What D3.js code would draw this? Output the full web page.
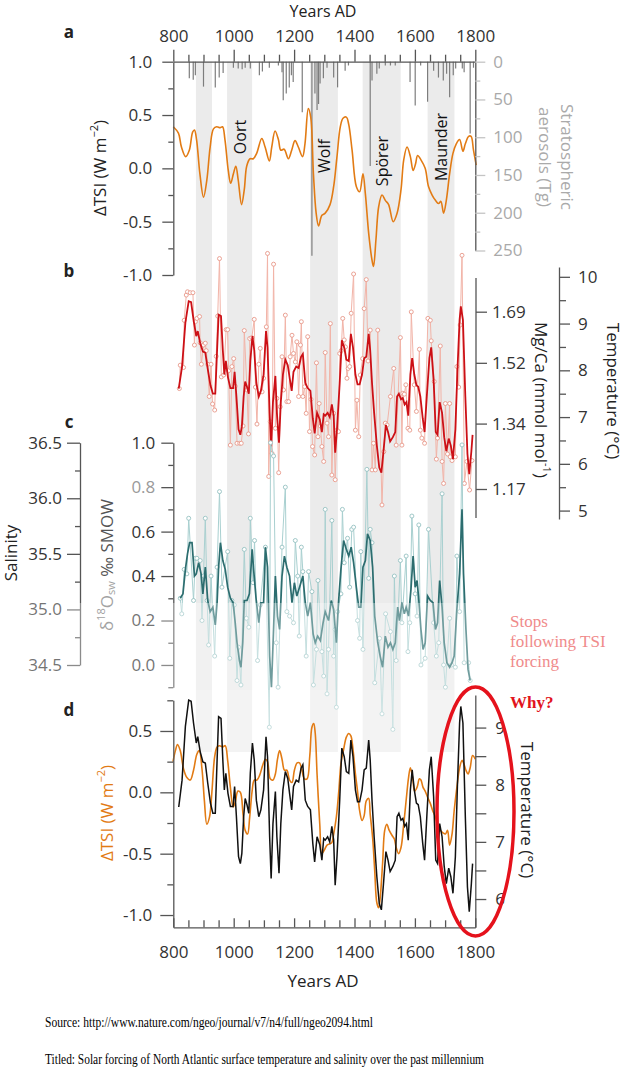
<!DOCTYPE html>
<html><head><meta charset="utf-8">
<script src="https://cdn.jsdelivr.net/npm/d3@7"></script>
<style>body{margin:0;background:#fff}svg{display:block}</style>
</head><body><svg id="c" width="623" height="1080"></svg>
<script>
// ---------------- DATA ----------------
const yearTicks = [800,1000,1200,1400,1600,1800];
const bandStart = [875, 978, 1253, 1427, 1642];
const bandEnd   = [928, 1061, 1345, 1553, 1731];
const bandNames = ["", "Oort", "Wolf", "Spörer", "Maunder"];

const volcYears = [853,866,873,900,939,952,965,999,1015,1028,1038,1055,1085,1095,1118,1148,1160,1164,1174,1184,1191,1197,1227,1259,1269,1276,1281,1286,1297,1309,1331,1344,1369,1380,1452,1458,1474,1482,1502,1519,1535,1584,1601,1619,1642,1662,1678,1694,1705,1715,1727,1735,1757,1763,1783,1794];
const volcTg    = [22,24,18,33,34,21,15,8,9,10,8,9,18,13,8,5,14,51,42,34,18,27,67,257,42,64,56,29,22,8,21,34,12,5,138,25,16,9,5,5,5,27,58,5,53,12,21,25,16,47,18,9,9,14,95,8];

const tsiAYears = [800,817,827,841,853,864,870,877,888,900,911,922,933,944,955,963,971,982,990,999,1007,1015,1026,1035,1043,1054,1065,1076,1093,1104,1118,1126,1137,1148,1156,1167,1181,1192,1203,1214,1228,1236,1247,1255,1264,1273,1281,1292,1303,1319,1331,1342,1353,1362,1373,1381,1392,1406,1417,1428,1436,1447,1458,1463,1471,1480,1491,1502,1513,1528,1541,1554,1563,1574,1585,1594,1602,1609,1620,1634,1645,1657,1668,1678,1686,1695,1704,1715,1726,1737,1748,1759,1767,1778,1786,1794,1803];
const tsiAValues = [0.39,0.33,0.20,0.11,0.17,0.34,0.36,0.27,-0.05,-0.27,-0.11,0.20,0.37,0.39,0.38,0.39,0.27,-0.02,-0.14,-0.05,0.02,-0.11,-0.34,-0.20,0.02,0.09,0.09,0.14,0.28,0.20,0.07,0.20,0.35,0.27,0.17,0.18,0.09,0.17,0.26,0.20,0.11,0.23,0.56,0.48,-0.05,-0.42,-0.54,-0.44,-0.42,-0.34,-0.17,0.11,0.39,0.47,0.48,0.41,0.17,-0.17,-0.22,-0.05,-0.24,-0.61,-0.86,-0.92,-0.67,-0.36,-0.25,-0.30,-0.34,-0.50,-0.42,-0.20,0.08,0.20,0.11,-0.02,0.04,0.12,0.08,0.00,-0.17,-0.25,-0.30,-0.33,-0.31,-0.42,-0.30,-0.05,0.14,0.23,0.27,0.16,0.23,0.30,0.30,0.17,0.03];

const mgPtYears = [820,823,834,836,843,847,856,865,870,873,878,887,889,893,900,906,909,914,919,925,930,937,942,947,953,959,967,975,980,983,989,994,1000,1005,1011,1020,1025,1031,1035,1044,1049,1053,1060,1068,1072,1077,1083,1088,1094,1099,1108,1112,1116,1121,1127,1132,1138,1143,1149,1154,1160,1165,1171,1176,1182,1187,1193,1198,1204,1209,1215,1221,1224,1229,1235,1240,1245,1251,1256,1261,1268,1274,1279,1283,1287,1292,1298,1303,1309,1314,1320,1325,1331,1336,1342,1347,1351,1356,1361,1366,1370,1375,1379,1384,1389,1397,1403,1408,1414,1419,1427,1432,1439,1445,1452,1458,1463,1469,1477,1491,1497,1502,1508,1519,1530,1538,1552,1557,1560,1565,1570,1577,1583,1588,1598,1605,1615,1618,1623,1632,1643,1651,1654,1664,1671,1675,1684,1690,1695,1701,1708,1715,1717,1723,1734,1739,1745,1750,1756,1764,1772,1781,1789];
const mgPtTemps = [7.61,8.11,8.06,9.07,9.61,9.68,9.66,9.66,8.54,9.04,9.11,9.15,8.59,8.13,8.54,8.58,8.42,8.13,7.44,8.13,7.28,7.15,8.30,9.16,10.39,7.86,7.90,8.87,8.87,7.99,6.40,8.08,8.25,7.66,6.44,6.44,6.44,6.81,8.85,7.58,6.64,8.68,8.70,9.09,7.64,6.85,8.13,8.47,7.54,7.83,8.93,10.50,5.73,6.90,6.22,10.27,6.76,7.40,5.81,7.22,8.29,7.58,9.18,7.33,7.33,8.29,8.75,8.36,8.18,8.61,7.44,8.54,9.04,7.44,7.65,7.08,8.72,6.69,7.38,6.37,6.19,8.16,6.58,7.29,6.81,6.37,6.05,8.38,6.87,6.58,9.00,5.76,7.08,5.66,6.72,6.69,8.36,8.42,9.11,8.65,8.50,7.83,8.04,8.08,9.22,10.06,6.72,7.36,6.58,7.90,8.25,9.32,9.94,8.20,8.86,5.87,6.44,5.87,8.86,5.12,6.26,6.87,6.83,7.44,8.04,6.40,8.70,6.40,7.51,7.49,7.69,6.76,6.72,9.25,7.69,7.12,8.45,6.72,6.55,6.44,9.11,9.07,8.63,7.76,6.10,6.55,8.52,6.05,5.58,7.29,6.21,7.29,6.15,6.07,6.15,8.08,7.64,8.97,10.46,5.58,6.05,5.44,6.07];

const tempYears = [818,829,840,851,859,867,876,881,889,898,906,914,923,931,939,945,950,958,964,969,974,981,989,998,1003,1009,1016,1022,1027,1033,1038,1044,1050,1055,1062,1068,1075,1083,1090,1099,1107,1112,1119,1124,1130,1138,1143,1150,1156,1163,1171,1179,1185,1192,1198,1207,1215,1223,1229,1237,1245,1254,1262,1268,1276,1285,1292,1298,1303,1311,1318,1325,1331,1336,1342,1351,1358,1366,1373,1381,1388,1395,1403,1410,1417,1425,1432,1439,1447,1452,1458,1465,1474,1482,1489,1496,1504,1511,1518,1527,1535,1541,1547,1554,1560,1566,1572,1578,1585,1591,1598,1605,1611,1618,1626,1632,1640,1648,1654,1662,1669,1675,1682,1690,1697,1704,1712,1719,1726,1734,1741,1748,1752,1759,1767,1774,1780,1787,1791];
const tempValues = [7.61,8.08,9.02,9.48,9.46,9.08,8.73,8.84,8.58,8.40,8.38,8.03,7.68,7.50,7.50,8.43,9.19,9.16,8.43,7.91,8.20,7.85,7.62,7.62,7.97,7.44,6.74,6.62,6.80,7.44,7.76,7.65,7.50,8.20,8.73,8.43,7.73,7.44,7.56,7.91,8.84,8.49,7.09,6.36,7.32,7.88,7.09,6.45,7.32,7.91,8.23,8.11,7.85,7.56,7.97,8.08,8.05,8.29,8.35,7.73,7.62,7.56,6.97,6.65,7.09,6.95,6.68,7.06,7.03,7.09,7.00,7.27,7.03,6.24,6.74,7.73,8.64,8.49,8.23,8.20,8.78,8.49,7.91,7.70,7.70,7.91,8.26,8.29,8.78,8.43,7.73,7.09,6.39,5.92,5.81,6.27,6.83,6.68,6.48,6.57,6.68,7.44,7.50,7.38,7.41,7.27,7.32,7.03,7.91,8.26,7.91,7.68,7.65,7.44,6.97,6.68,7.50,8.26,8.49,7.79,6.68,6.62,7.32,7.09,6.57,6.27,6.54,6.39,6.10,6.74,8.02,9.08,9.37,9.08,7.44,6.21,5.78,6.27,6.62];

const d18PtYears = [823,828,836,845,851,867,873,878,889,895,900,906,912,917,925,937,945,953,961,980,987,994,1002,1011,1016,1024,1035,1042,1050,1055,1064,1069,1079,1088,1105,1118,1122,1132,1141,1147,1160,1171,1176,1185,1198,1204,1212,1217,1224,1229,1240,1248,1259,1264,1274,1279,1292,1298,1303,1309,1314,1325,1331,1336,1340,1344,1355,1360,1366,1377,1384,1391,1397,1410,1417,1421,1428,1441,1447,1452,1458,1467,1483,1491,1503,1519,1527,1532,1538,1552,1557,1571,1577,1583,1590,1601,1607,1613,1620,1634,1645,1662,1671,1679,1690,1695,1701,1715,1721,1734,1739,1748,1756,1763,1778,1783];
const d18PtValues = [0.30,0.23,0.43,0.41,0.66,0.29,0.48,0.48,0.47,0.20,0.40,0.66,0.29,0.09,0.40,0.04,0.44,0.78,0.35,0.51,0.03,0.29,0.27,-0.07,0.08,-0.09,0.52,0.21,0.17,0.66,0.37,0.56,0.02,0.27,0.53,-0.28,1.00,0.94,0.10,-0.10,0.53,0.80,0.24,0.22,0.19,0.56,0.40,0.13,0.53,0.42,0.04,0.42,0.33,-0.09,0.07,0.38,0.06,-0.05,0.70,-0.13,0.07,0.65,0.04,0.16,-0.19,0.24,0.32,0.70,0.46,0.57,0.35,0.61,0.62,0.20,0.12,0.51,0.07,0.88,0.39,0.61,0.55,-0.08,0.12,-0.22,0.23,0.15,-0.29,0.40,0.02,0.47,0.19,0.49,0.06,0.19,0.67,0.32,0.22,0.63,0.00,0.03,0.61,0.19,0.04,0.10,0.77,0.00,-0.10,0.21,0.00,-0.01,0.49,0.24,0.99,0.01,0.01,-0.07];

const d18Years = [823,832,840,847,854,862,870,876,884,892,898,906,914,922,931,939,945,950,956,964,972,980,989,998,1005,1011,1019,1024,1030,1035,1044,1052,1061,1066,1074,1083,1090,1099,1105,1112,1119,1125,1132,1138,1145,1152,1160,1168,1176,1185,1193,1201,1209,1218,1229,1237,1245,1254,1263,1270,1278,1287,1296,1303,1314,1323,1331,1340,1347,1355,1364,1373,1381,1389,1397,1406,1414,1421,1428,1436,1443,1452,1460,1467,1477,1485,1493,1502,1511,1519,1527,1535,1543,1549,1557,1565,1571,1579,1587,1594,1601,1607,1612,1620,1627,1634,1642,1651,1660,1668,1675,1682,1690,1697,1706,1715,1723,1730,1739,1748,1756,1761,1769,1776,1783];
const d18Values = [0.30,0.32,0.43,0.50,0.55,0.55,0.40,0.41,0.46,0.41,0.32,0.44,0.29,0.24,0.26,0.18,0.28,0.44,0.55,0.47,0.43,0.35,0.30,0.28,0.19,0.10,0.02,-0.01,0.10,0.29,0.29,0.32,0.52,0.43,0.30,0.19,0.28,0.28,0.53,0.44,0.04,-0.10,0.16,0.40,0.22,0.16,0.40,0.49,0.44,0.40,0.28,0.37,0.31,0.35,0.40,0.28,0.22,0.28,0.14,0.10,0.13,0.11,0.19,0.24,0.20,0.29,0.25,0.10,0.28,0.43,0.56,0.52,0.49,0.53,0.46,0.35,0.26,0.26,0.44,0.47,0.59,0.56,0.44,0.22,0.10,0.04,-0.01,0.13,0.08,0.10,0.07,0.10,0.26,0.20,0.28,0.23,0.26,0.22,0.34,0.49,0.35,0.38,0.31,0.16,0.07,0.10,0.31,0.29,0.28,0.16,0.19,0.38,0.26,0.10,0.01,-0.01,0.01,0.04,0.25,0.41,0.70,0.41,0.16,-0.02,-0.07];

const tsiDYears = [799,807,814,823,834,845,856,867,878,886,895,903,911,920,928,937,945,953,964,972,980,989,998,1005,1014,1022,1031,1038,1046,1053,1061,1068,1077,1086,1096,1105,1112,1121,1130,1138,1145,1152,1160,1168,1176,1185,1193,1201,1210,1218,1226,1234,1243,1252,1259,1265,1270,1276,1285,1292,1300,1309,1318,1325,1331,1340,1348,1355,1364,1373,1381,1388,1395,1403,1410,1417,1425,1432,1439,1447,1452,1460,1467,1474,1480,1485,1493,1500,1507,1515,1524,1532,1538,1546,1554,1563,1572,1579,1585,1593,1599,1607,1615,1620,1627,1634,1642,1651,1659,1668,1675,1684,1693,1701,1708,1715,1723,1730,1739,1748,1756,1761,1769,1776,1783,1791,1800];
const tsiDValues = [0.25,0.34,0.39,0.34,0.19,0.12,0.10,0.18,0.31,0.34,0.19,-0.07,-0.26,-0.20,0.01,0.29,0.37,0.38,0.37,0.38,0.26,0.04,-0.12,-0.08,0.01,0.00,-0.18,-0.31,-0.34,-0.20,0.01,0.10,0.10,0.14,0.22,0.27,0.25,0.11,0.10,0.15,0.27,0.34,0.27,0.18,0.18,0.10,0.08,0.18,0.24,0.24,0.18,0.11,0.11,0.30,0.53,0.56,0.48,0.15,-0.26,-0.50,-0.47,-0.43,-0.42,-0.41,-0.34,-0.20,0.01,0.23,0.35,0.45,0.48,0.46,0.35,0.15,0.01,-0.15,-0.23,-0.19,-0.07,-0.05,-0.18,-0.37,-0.64,-0.90,-0.94,-0.86,-0.58,-0.31,-0.26,-0.31,-0.35,-0.38,-0.45,-0.50,-0.45,-0.26,-0.04,0.12,0.20,0.11,0.01,0.04,0.11,0.10,0.04,0.01,-0.04,-0.09,-0.15,-0.20,-0.27,-0.31,-0.33,-0.34,-0.31,-0.43,-0.34,-0.15,0.04,0.20,0.26,0.24,0.18,0.15,0.20,0.30,0.27];

// ---------------- LAYOUT ----------------
const L = {x0:173.3, x1:475.3};
const bandLabelY = [0, 137, 156, 161, 147];
const FONT = "'Open Sans', sans-serif";
const ORANGE = "#e27b14";

const svg = d3.select("#c");
const x = d3.scaleLinear().domain([800,1800]).range([L.x0, L.x1]);

// scales
const yTsiA = d3.scaleLinear().domain([-1,1]).range([275,61.7]);
const yAer  = d3.scaleLinear().domain([0,250]).range([61.7,250.5]);
const yTempB = d3.scaleLinear().domain([4.82,10.21]).range([519,267]);
const yMg = d3.scaleLog().domain([1.17,1.69]).range([489,311.7]);
const yD18 = d3.scaleLinear().domain([-0.1,1.0]).range([687.2,442.7]);
const ySal = d3.scaleLinear().domain([34.5,36.5]).range([665,442.7]);
const yTsiD = d3.scaleLinear().domain([-1.1,0.75]).range([927.3,700.3]);
const yTempD = d3.scaleLinear().domain([5.5,9.57]).range([927.6,695]);

// bands
svg.append("g").selectAll("rect").data(bandStart).join("rect")
  .attr("x", d=>x(d)).attr("width",(d,i)=>x(bandEnd[i])-x(d))
  .attr("y",61.7).attr("height",752-61.7).attr("fill","#ebebeb");

// aerosol bars
svg.append("g").selectAll("line").data(volcYears).join("line")
  .attr("x1",d=>x(d)).attr("x2",d=>x(d))
  .attr("y1",yAer(0)).attr("y2",(d,i)=>yAer(volcTg[i]))
  .attr("stroke","#7d7d7d").attr("stroke-width",1.2);

// panel a TSI
const lineCR = (xs, ys, yScale) => d3.line().curve(d3.curveCatmullRom.alpha(0.5))
  .x((d,i)=>x(xs[i])).y((d,i)=>yScale(ys[i]))(xs);
const lineLin = (xs, ys, yScale) => d3.line()
  .x((d,i)=>x(xs[i])).y((d,i)=>yScale(ys[i]))(xs);

svg.append("path").attr("d", lineCR(tsiAYears, tsiAValues, yTsiA))
  .attr("fill","none").attr("stroke",ORANGE).attr("stroke-width",1.6);

// panel b
svg.append("path").attr("d", lineLin(mgPtYears, mgPtTemps, yTempB))
  .attr("fill","none").attr("stroke","#f2b4a8").attr("stroke-width",1);
svg.append("g").selectAll("circle").data(mgPtYears).join("circle")
  .attr("cx",d=>x(d)).attr("cy",(d,i)=>yTempB(mgPtTemps[i])).attr("r",2)
  .attr("fill","#fff").attr("stroke","#e8998a").attr("stroke-width",0.9);
svg.append("path").attr("d", lineLin(tempYears, tempValues, yTempB))
  .attr("fill","none").attr("stroke","#cc1016").attr("stroke-width",1.8);

// panel c
svg.append("path").attr("d", lineLin(d18PtYears, d18PtValues, yD18))
  .attr("fill","none").attr("stroke","#a9d0d0").attr("stroke-width",1);
svg.append("g").selectAll("circle").data(d18PtYears).join("circle")
  .attr("cx",d=>x(d)).attr("cy",(d,i)=>yD18(d18PtValues[i])).attr("r",2)
  .attr("fill","#fff").attr("stroke","#96c2c2").attr("stroke-width",0.9);
svg.append("path").attr("d", lineLin(d18Years, d18Values, yD18))
  .attr("fill","none").attr("stroke","#2c6d6f").attr("stroke-width",1.7);

// axes helpers
function styl(g, o={}) {
  g.attr("font-family", FONT).attr("font-size", 17);
  g.selectAll("path.domain").attr("stroke", o.line||"#555").attr("stroke-width",1.3);
  g.selectAll(".tick line").attr("stroke", o.tick||"#555").attr("stroke-width",1.3);
  g.selectAll(".tick text").attr("fill", o.text||"#333");
  return g;
}
const f1 = d => d.toFixed(1);
function minor(axisFn, scale, vals, size, tx, ty, col) {
  const g = svg.append("g").attr("transform",`translate(${tx},${ty})`)
    .call(axisFn(scale).tickValues(vals).tickSize(size).tickFormat(""));
  g.select(".domain").remove();
  g.selectAll(".tick line").attr("stroke", col||"#555").attr("stroke-width",1.3);
}
const range = (a,b,s) => d3.range(a, b+s/2, s);

// panel a axes
styl(svg.append("g").attr("transform","translate(0,61.7)")
  .call(d3.axisTop(x).tickValues(yearTicks).tickSize(12).tickSizeOuter(0).tickPadding(8).tickFormat(d3.format("d"))));
minor(d3.axisTop, x, range(850,1750,50).filter(v=>v%200), 7, 0, 61.7);
styl(svg.append("g").attr("transform",`translate(${L.x0},0)`)
  .call(d3.axisLeft(yTsiA).tickValues([-1,-0.5,0,0.5,1]).tickSize(11).tickSizeOuter(0).tickPadding(10).tickFormat(f1)));
minor(d3.axisLeft, yTsiA, [-0.75,-0.25,0.25,0.75], 5, L.x0, 0);
styl(svg.append("g").attr("transform",`translate(${L.x1},0)`)
  .call(d3.axisRight(yAer).tickValues(range(0,250,50)).tickSize(10).tickSizeOuter(0).tickPadding(8)),
  {tick:"#c4c4c4", text:"#a9a9a9"});
minor(d3.axisRight, yAer, range(25,225,50), 5, L.x1, 0, "#c4c4c4");

// panel b axes
{
  const g = styl(svg.append("g").attr("transform","translate(476,0)")
    .call(d3.axisRight(yMg).tickValues([1.17,1.34,1.52,1.69]).tickSize(11).tickPadding(5).tickFormat(d3.format(".2f"))));
  g.select(".domain").remove();
  g.append("line").attr("x1",0).attr("x2",0).attr("y1",278).attr("y2",518).attr("stroke","#555").attr("stroke-width",1.3);
}
styl(svg.append("g").attr("transform","translate(559,0)")
  .call(d3.axisRight(yTempB).tickValues(range(5,10,1)).tickSize(11).tickSizeOuter(0).tickPadding(8).tickFormat(d3.format("d"))));
minor(d3.axisRight, yTempB, range(5.5,9.5,1), 7, 559, 0);

// panel c axes
{
  const g = styl(svg.append("g").attr("transform",`translate(${L.x0},0)`)
    .call(d3.axisLeft(yD18).tickValues(range(0,1,0.2)).tickSize(12).tickSizeOuter(0).tickPadding(6).tickFormat(f1)));
  g.selectAll(".tick text").filter(d=>Math.abs(d-0.8)<1e-6).attr("fill","#9a9a9a");
  minor(d3.axisLeft, yD18, [-0.1,0.1,0.3,0.5,0.7,0.9], 5, L.x0, 0);
}
styl(svg.append("g").attr("transform","translate(80,0)")
  .call(d3.axisLeft(ySal).tickValues(range(34.5,36.5,0.5)).tickSize(13).tickSizeOuter(0).tickPadding(5).tickFormat(f1)));
minor(d3.axisLeft, ySal, range(34.75,36.25,0.5), 5, 80, 0);

// watermark-like fade
svg.append("rect").attr("x",0).attr("y",603).attr("width",623).attr("height",87).attr("fill","#fff").attr("opacity",0.32);
svg.append("rect").attr("x",174).attr("y",690).attr("width",300).attr("height",62).attr("fill","#fff").attr("opacity",0.4);

// panel d lines
svg.append("path").attr("d", lineCR(tsiDYears, tsiDValues, yTsiD))
  .attr("fill","none").attr("stroke",ORANGE).attr("stroke-width",1.6);
svg.append("path").attr("d", lineLin(tempYears, tempValues, yTempD))
  .attr("fill","none").attr("stroke","#111").attr("stroke-width",1.5);

// panel d axes
styl(svg.append("g").attr("transform","translate(0,927.3)")
  .call(d3.axisBottom(x).tickValues(yearTicks).tickSize(-9).tickSizeOuter(0).tickPadding(19).tickFormat(d3.format("d"))));
minor(d3.axisBottom, x, range(850,1750,50).filter(v=>v%200), -7, 0, 927.3);
styl(svg.append("g").attr("transform",`translate(${L.x0},0)`)
  .call(d3.axisLeft(yTsiD).tickValues([-1,-0.5,0,0.5]).tickSize(13).tickSizeOuter(0).tickPadding(8).tickFormat(f1)));
minor(d3.axisLeft, yTsiD, [-0.75,-0.25,0.25,0.75], 6, L.x0, 0);
styl(svg.append("g").attr("transform",`translate(${L.x1},0)`)
  .call(d3.axisRight(yTempD).tickValues([6,7,8,9]).tickSize(11).tickSizeOuter(0).tickPadding(9).tickFormat(d3.format("d"))));
minor(d3.axisRight, yTempD, [6.5,7.5,8.5], 11, L.x1, 0);

// ---------------- TEXT ----------------
function txt(s, px, py, o={}) {
  const t = svg.append("text").attr("x",px).attr("y",py)
    .attr("font-family", o.family||FONT).attr("font-size", o.size||17)
    .attr("fill", o.fill||"#222").attr("text-anchor", o.anchor||"middle");
  if (o.weight) t.attr("font-weight", o.weight);
  if (o.rot) t.attr("transform", `rotate(${o.rot},${px},${py})`).attr("dominant-baseline","central");
  if (s !== null) t.text(s);
  return t;
}
function sup(t, s, up=-6, size=11) { t.append("tspan").attr("dy",up).attr("font-size",size).text(s); }

txt("Years AD", 323, 17, {size:16});
txt("Years AD", 323, 987);
["a","b","c","d"].forEach((s,i)=>txt(s, 69, [38,277,428,716][i], {weight:"bold"}));

bandNames.forEach((n,i)=>{ if(n) txt(n, x((bandStart[i]+bandEnd[i])/2), bandLabelY[i], {rot:-90, size:16, fill:"#111"}); });

{ const t = txt(null, 99, 168, {rot:-90}); t.append("tspan").text("ΔTSI (W m"); sup(t,"−2"); t.append("tspan").attr("dy",6).text(")"); }
{ const t = txt(null, 106, 813, {rot:-90, fill:ORANGE}); t.append("tspan").text("ΔTSI (W m"); sup(t,"−2"); t.append("tspan").attr("dy",6).text(")"); }
txt("Stratospheric", 567, 157, {rot:90, fill:"#aaa"});
txt("aerosols (Tg)", 545, 157, {rot:90, fill:"#aaa"});
{ const t = txt(null, 542, 400, {rot:90}); t.append("tspan").text("Mg/Ca (mmol mol"); sup(t,"-1"); t.append("tspan").attr("dy",6).text(")"); }
txt("Temperature (°C)", 613, 391, {rot:90});
txt("Temperature (°C)", 527, 810, {rot:90});
txt("Salinity", 10, 553, {rot:-90});
{ const t = txt(null, 106, 565, {rot:-90, fill:"#a3a3a3"});
  t.append("tspan").text("δ"); sup(t,"18");
  t.append("tspan").attr("dy",6).text("O");
  t.append("tspan").attr("dy",4).attr("font-size",11).text("sw");
  t.append("tspan").attr("dy",-4).attr("fill","#555").text(" ‰ SMOW"); }

// annotations
svg.append("ellipse").attr("cx",475.5).attr("cy",811.5).attr("rx",38.5).attr("ry",124.5)
  .attr("fill","none").attr("stroke","#e5121c").attr("stroke-width",3.5);
const SER = "'Liberation Serif','Times New Roman',serif";
["Stops","following TSI","forcing"].forEach((s,i)=>txt(s, 510, [627,647,667][i], {family:SER, anchor:"start", fill:"#f08b8b"}));
txt("Why?", 510, 708, {family:SER, anchor:"start", fill:"#e2141c", weight:"bold"});

txt("Source: http://www.nature.com/ngeo/journal/v7/n4/full/ngeo2094.html", 45, 1027, {family:SER, anchor:"start", size:14, fill:"#000"})
  .attr("textLength",328).attr("lengthAdjust","spacingAndGlyphs");
txt("Titled: Solar forcing of North Atlantic surface temperature and salinity over the past millennium", 45, 1064, {family:SER, anchor:"start", size:14, fill:"#000"})
  .attr("textLength",439).attr("lengthAdjust","spacingAndGlyphs");
</script></body></html>
